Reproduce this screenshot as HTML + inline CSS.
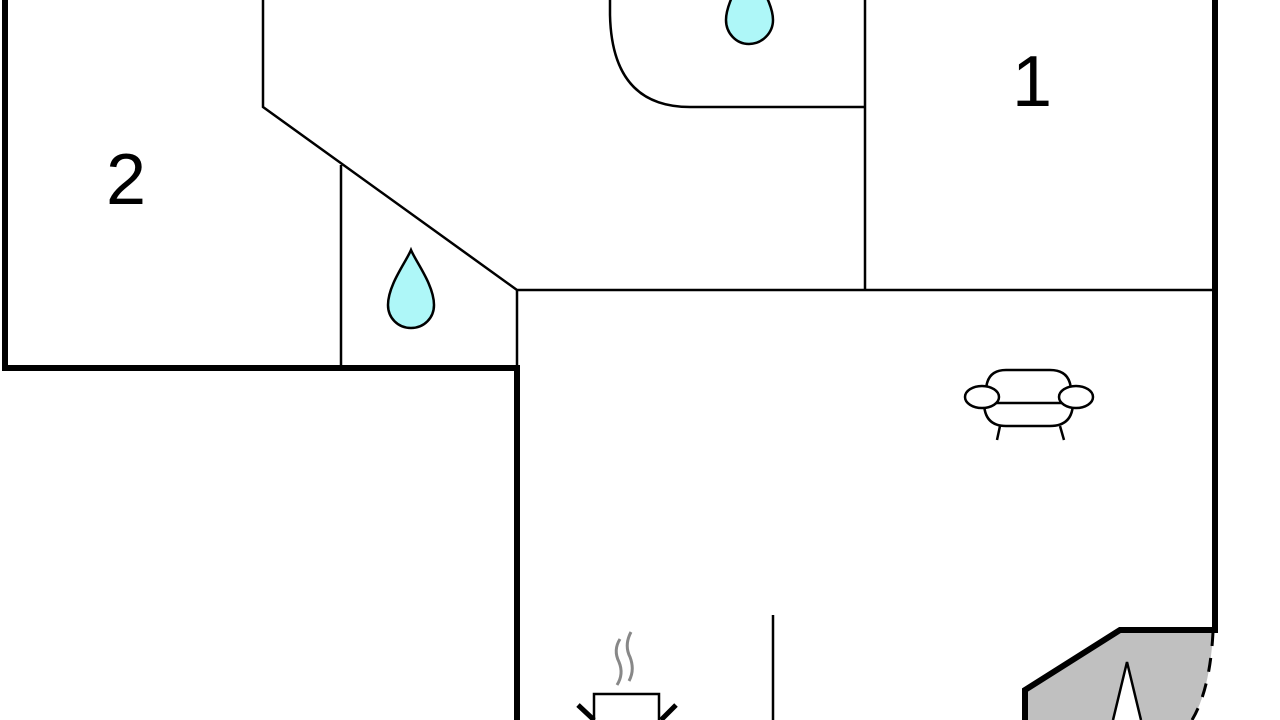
<!DOCTYPE html>
<html><head><meta charset="utf-8"><style>html,body{margin:0;padding:0;background:#fff;width:1280px;height:720px;overflow:hidden}</style></head>
<body>
<svg width="1280" height="720" viewBox="0 0 1280 720" xmlns="http://www.w3.org/2000/svg">
<rect width="1280" height="720" fill="#fff"/>
<path d="M1120,632 L1213,632 Q1210,690 1192,720 L1025,720 L1025,690 Z" fill="#c0c0c0"/>
<path d="M1113,720 L1127,662 L1141,720 Z" fill="#fff"/>
<path d="M1113,720 L1127,662 L1141,720" fill="none" stroke="#000" stroke-width="2.5"/>
<path d="M1213,632 Q1210,690 1192,720" fill="none" stroke="#000" stroke-width="3" stroke-dasharray="14,12"/>
<g stroke="#000" stroke-width="2.5" fill="none">
<path d="M263,0 L263,107 L517,290 L1215,290"/>
<path d="M341,165 L341,368"/>
<path d="M517,290 L517,368"/>
<path d="M865,0 L865,290"/>
<path d="M610,0 L610,15 Q612,107 690,107 L865,107"/>
<path d="M773,615 L773,720"/>
</g>
<g stroke="#000" stroke-width="6" fill="none">
<path d="M5,0 L5,368 L517,368 L517,720"/>
<path d="M1215,0 L1215,630 L1120,630 L1025,690 L1025,720"/>
</g>
<path d="M749,-40 C756,-20 773,2 773,20 C773,33 762,44 749,44 C736,44 726,33 726,20 C726,2 742,-20 749,-40 Z" fill="#aef7f8" stroke="#000" stroke-width="2.5"/>
<path d="M411,250 C416,262 434,285 434,305 C434,318 424,328 411,328 C398,328 388,318 388,305 C388,285 406,262 411,250 Z" fill="#aef7f8" stroke="#000" stroke-width="2.5"/>
<g stroke="#000" stroke-width="2.5" fill="#fff">
<path d="M986,392 Q986,370 1006,370 L1050,370 Q1071,370 1071,392"/>
<path d="M984,402 Q984,426 1006,426 L1050,426 Q1073,426 1073,402"/>
<line x1="1000" y1="426" x2="997" y2="440"/>
<line x1="1060" y1="426" x2="1064" y2="440"/>
<line x1="996" y1="403" x2="1062" y2="403"/>
<ellipse cx="982" cy="397" rx="17" ry="11"/>
<ellipse cx="1076" cy="397" rx="17" ry="11"/>
</g>
<g fill="none">
<path d="M620,639 Q613,650 619,662 Q624,674 617,685" stroke="#888" stroke-width="3"/>
<path d="M631,632 Q624,645 630,657 Q635,670 629,681" stroke="#888" stroke-width="3"/>
<path d="M594,720 L594,694 L659,694 L659,720" stroke="#000" stroke-width="2.5"/>
<path d="M578,705 L594,720 M676,705 L661,720" stroke="#000" stroke-width="5"/>
</g>
<text x="126" y="204" font-family="Liberation Sans, sans-serif" font-size="72" text-anchor="middle">2</text>
<text x="1032" y="106" font-family="Liberation Sans, sans-serif" font-size="72" text-anchor="middle">1</text>
</svg>
</body></html>
